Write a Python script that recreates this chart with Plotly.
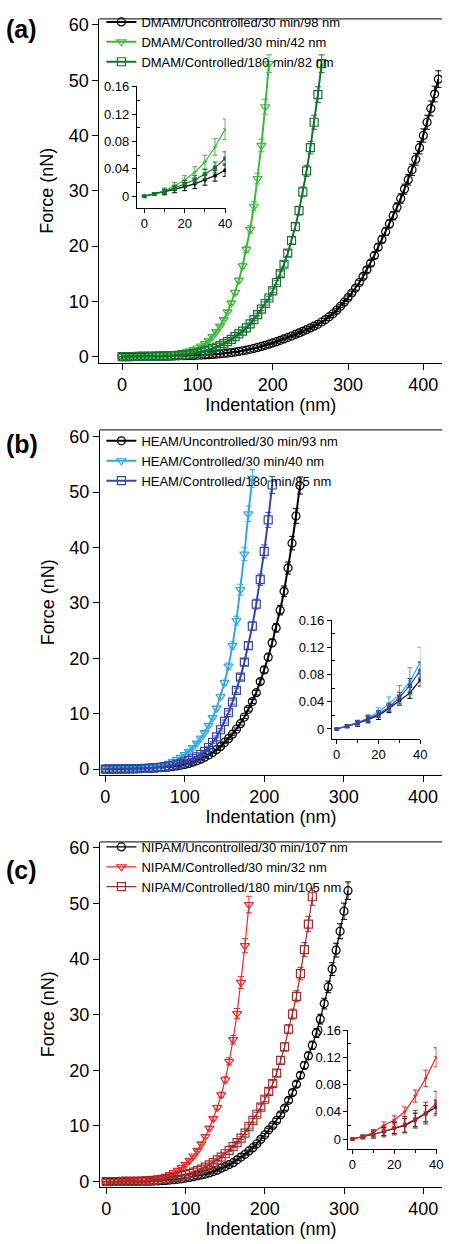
import plotly.graph_objects as go

W, H = 449, 1244
STEP = 5  # indentation sampling step (nm)

# ---------------- data: force (nN) every 5 nm of indentation ----------------
dmam_unc = [0.000, 0.003, 0.006, 0.010, 0.014, 0.018, 0.024, 0.030, 0.038,
            0.047, 0.057, 0.068, 0.080, 0.094, 0.11, 0.13, 0.15, 0.17, 0.19, 0.21,
            0.24, 0.27, 0.30, 0.34, 0.38, 0.43, 0.49, 0.56, 0.63, 0.72,
            0.82, 0.93, 1.05, 1.18, 1.32, 1.48, 1.65, 1.84, 2.04, 2.25,
            2.47, 2.70, 2.94, 3.19, 3.45, 3.72, 4.00, 4.28, 4.57, 4.87,
            5.18, 5.50, 5.85, 6.25, 6.70, 7.20, 7.75, 8.40, 9.10, 9.85,
            10.65, 11.5, 12.4, 13.4, 14.5, 15.7, 16.9, 18.3, 19.8, 21.2,
            22.6, 24.0, 25.5, 27.0, 28.6, 30.3, 32.0, 33.8, 35.7, 37.8,
            40.0, 42.4, 44.9, 47.5, 50.2]
dmam_c30 = [0.000, 0.003, 0.008, 0.015, 0.024, 0.035, 0.050, 0.072, 0.098,
            0.13, 0.17, 0.22, 0.28, 0.35, 0.44, 0.55, 0.68, 0.85, 1.05, 1.28,
            1.55, 1.9, 2.35, 2.95, 3.65, 4.5, 5.5, 6.7, 8.1, 9.7,
            11.6, 13.8, 16.4, 19.4, 23.0, 27.2, 32.2, 38.2, 45.2, 53.0]
dmam_c180 = [0.000, 0.003, 0.007, 0.012, 0.018, 0.024, 0.032, 0.042, 0.055,
             0.07, 0.09, 0.11, 0.13, 0.16, 0.19, 0.23, 0.28, 0.34, 0.42, 0.52,
             0.64, 0.79, 0.97, 1.18, 1.42, 1.7, 2.0, 2.35, 2.7, 3.1,
             3.6, 4.1, 4.6, 5.2, 5.9, 6.7, 7.6, 8.6, 9.6, 10.6,
             11.9, 13.4, 15.0, 16.7, 18.7, 21.0, 23.5, 26.4, 29.8, 33.6,
             37.8, 42.4, 47.4, 53.0]

heam_unc = [0.000, 0.004, 0.008, 0.014, 0.020, 0.030, 0.042, 0.053, 0.072,
            0.09, 0.11, 0.13, 0.16, 0.19, 0.24, 0.30, 0.37, 0.46, 0.57, 0.70,
            0.85, 1.03, 1.25, 1.5, 1.8, 2.15, 2.55, 3.0, 3.5, 4.1,
            4.8, 5.5, 6.3, 7.2, 8.2, 9.4, 10.8, 12.2, 13.8, 15.8,
            17.9, 20.2, 22.8, 25.5, 28.7, 32.1, 36.3, 40.8, 45.7, 51.2]
heam_c30 = [0.000, 0.004, 0.009, 0.016, 0.025, 0.037, 0.050, 0.070, 0.098,
            0.13, 0.17, 0.24, 0.33, 0.45, 0.6, 0.8, 1.05, 1.35, 1.7, 2.1,
            2.6, 3.2, 3.9, 4.7, 5.6, 6.6, 7.9, 9.3, 11.0, 13.1,
            15.6, 18.6, 22.3, 26.8, 32.4, 38.8, 46.1, 52.5]
heam_c180 = [0.000, 0.004, 0.009, 0.015, 0.022, 0.032, 0.046, 0.064, 0.086,
             0.11, 0.14, 0.18, 0.23, 0.29, 0.36, 0.45, 0.56, 0.69, 0.85, 1.05,
             1.28, 1.55, 1.85, 2.2, 2.65, 3.2, 3.9, 4.8, 5.8, 7.1,
             8.6, 10.2, 12.1, 14.2, 16.6, 19.3, 22.3, 25.8, 29.8, 34.2,
             39.3, 45.0, 51.3]

nipam_unc = [0.000, 0.003, 0.007, 0.011, 0.016, 0.020, 0.028, 0.037, 0.047,
             0.052, 0.06, 0.075, 0.095, 0.12, 0.16, 0.2, 0.26, 0.33, 0.41, 0.5,
             0.62, 0.74, 0.88, 1.05, 1.2, 1.35, 1.55, 1.8, 2.05, 2.4,
             2.7, 3.05, 3.4, 3.9, 4.4, 4.9, 5.5, 6.1, 6.8, 7.6,
             8.4, 9.3, 10.1, 11.0, 12.0, 13.2, 14.6, 16.0, 17.5, 19.1,
             20.9, 22.6, 24.5, 26.7, 29.2, 32.0, 35.0, 38.2, 41.6, 45.0,
             48.6, 52.3]
nipam_c30 = [0.000, 0.004, 0.010, 0.020, 0.028, 0.040, 0.063, 0.089, 0.12,
             0.16, 0.22, 0.30, 0.40, 0.54, 0.72, 0.95, 1.25, 1.6, 2.0, 2.5,
             3.1, 3.8, 4.6, 5.6, 6.8, 8.1, 9.6, 11.3, 13.3, 15.6,
             18.3, 21.6, 25.5, 30.2, 35.8, 42.4, 49.8]
nipam_c180 = [0.000, 0.003, 0.007, 0.011, 0.016, 0.021, 0.029, 0.038, 0.052,
              0.08, 0.12, 0.17, 0.24, 0.32, 0.41, 0.52, 0.64, 0.78, 0.93, 1.08,
              1.25, 1.45, 1.7, 1.95, 2.25, 2.6, 3.0, 3.4, 3.9, 4.4,
              5.0, 5.6, 6.3, 7.0, 7.8, 8.7, 9.9, 11.0, 12.1, 13.4,
              14.8, 16.2, 17.6, 19.5, 21.8, 24.2, 27.4, 30.1, 33.3, 37.4,
              41.7, 46.3, 51.2]

# inset (0-40 nm) error bars, nN
a_unc_err = [0.001, 0.002, 0.004, 0.005, 0.006, 0.007, 0.008, 0.008, 0.009]
a_c30_err = [0.001, 0.002, 0.004, 0.005, 0.006, 0.008, 0.010, 0.012, 0.015]
a_c180_err = [0.001, 0.002, 0.003, 0.004, 0.005, 0.006, 0.007, 0.008, 0.010]
b_unc_err = [0.001, 0.002, 0.004, 0.005, 0.006, 0.006, 0.007, 0.008, 0.009]
b_c30_err = [0.001, 0.002, 0.004, 0.005, 0.006, 0.010, 0.014, 0.020, 0.022]
b_c180_err = [0.001, 0.002, 0.003, 0.004, 0.005, 0.006, 0.008, 0.010, 0.012]
c_unc_err = [0.001, 0.002, 0.004, 0.006, 0.008, 0.010, 0.010, 0.012, 0.010]
c_c30_err = [0.001, 0.002, 0.004, 0.005, 0.006, 0.007, 0.009, 0.012, 0.014]
c_c180_err = [0.001, 0.003, 0.006, 0.008, 0.010, 0.012, 0.013, 0.016, 0.018]

main_err_pct = 3  # relative error shown on the main curves (%)

panels = [
    dict(label="(a)", lw=2.0, series=[
        ("DMAM/Uncontrolled/30 min/98 nm", dmam_unc, a_unc_err, "#000000", "circle"),
        ("DMAM/Controlled/30 min/42 nm", dmam_c30, a_c30_err, "#3dba3d", "triangle-down"),
        ("DMAM/Controlled/180 min/82 nm", dmam_c180, a_c180_err, "#16722f", "square"),
    ]),
    dict(label="(b)", lw=2.0, series=[
        ("HEAM/Uncontrolled/30 min/93 nm", heam_unc, b_unc_err, "#000000", "circle"),
        ("HEAM/Controlled/30 min/40 nm", heam_c30, b_c30_err, "#35a8e0", "triangle-down"),
        ("HEAM/Controlled/180 min/85 nm", heam_c180, b_c180_err, "#3845a6", "square"),
    ]),
    dict(label="(c)", lw=1.2, series=[
        ("NIPAM/Uncontrolled/30 min/107 nm", nipam_unc, c_unc_err, "#000000", "circle"),
        ("NIPAM/Controlled/30 min/32 nm", nipam_c30, c_c30_err, "#e82a2a", "triangle-down"),
        ("NIPAM/Controlled/180 min/105 nm", nipam_c180, c_c180_err, "#a52a2a", "square"),
    ]),
]

# ---------------- layout geometry (pixels) ----------------
def fx(p):
    return p / W


def fy(p):
    return 1 - p / H

geo = [
    dict(main_x=(101, W), main_y=(12, 359), xr=[-30.1, 424.8], yr=[-1.08, 61.1],
         ins_x=(139, 229.3), ins_y=(80, 202.7), ixr=[-3.7, 40.3], iyr=[-0.017, 0.161],
         leg=(103, 0), lab=(22, 22)),
    dict(main_x=(101.7, W), main_y=(427, 775), xr=[-6.6, 423.8], yr=[-0.98, 61.25],
         ins_x=(337, 427), ins_y=(619, 739), ixr=[-2.35, 40.0], iyr=[-0.0145, 0.16],
         leg=(103, 423), lab=(22, 441)),
    dict(main_x=(101.7, W), main_y=(843, 1191), xr=[-7.8, 423.6], yr=[-0.89, 61.07],
         ins_x=(354, 443.5), ins_y=(1033, 1153), ixr=[-1.9, 40.2], iyr=[-0.0145, 0.16],
         leg=(103, 833), lab=(22, 871)),
]

FONT = "Liberation Sans, Arial, sans-serif"
fig = go.Figure()
layout = dict(width=W, height=H, margin=dict(l=0, r=0, t=0, b=0),
              paper_bgcolor="white", plot_bgcolor="rgba(0,0,0,0)",
              font=dict(family=FONT, color="black"), shapes=[], annotations=[])

for i, (pan, g) in enumerate(zip(panels, geo)):
    mi = 2 * i + 1
    ii = 2 * i + 2
    mx = "x" if mi == 1 else f"x{mi}"
    my = "y" if mi == 1 else f"y{mi}"
    ix, iy = f"x{ii}", f"y{ii}"
    legname = "legend" if i == 0 else f"legend{i + 1}"
    for name, vals, ierr, col, sym in pan["series"]:
        xs = [k * STEP for k in range(len(vals))]
        fig.add_trace(go.Scatter(
            x=xs, y=vals, xaxis=mx, yaxis=my, name=name, legend=legname,
            mode="lines+markers",
            line=dict(color=col, width=pan["lw"]),
            marker=dict(symbol=sym + "-open", size=8, color=col, line=dict(width=1.2, color=col)),
            error_y=dict(type="percent", value=main_err_pct, color=col, thickness=1, width=3),
        ))
    for name, vals, ierr, col, sym in pan["series"]:
        n = len(ierr)
        xs = [k * STEP for k in range(n)]
        fig.add_trace(go.Scatter(
            x=xs, y=vals[:n], xaxis=ix, yaxis=iy, showlegend=False, name=name,
            mode="lines+markers",
            line=dict(color=col, width=1.2),
            marker=dict(symbol=sym, size=4, color=col),
            error_y=dict(type="data", array=ierr, color=col, thickness=1, width=2.5),
        ))

    axkey = lambda a: ("xaxis" if a.startswith("x") else "yaxis") + a[1:]
    layout[axkey(mx)] = dict(
        domain=[fx(g["main_x"][0]), fx(g["main_x"][1])], range=g["xr"], anchor=my,
        showline=True, linecolor="black", linewidth=1.3, ticks="outside", ticklen=6,
        tickwidth=1.2, tickcolor="black", dtick=100, tick0=0, showgrid=False, zeroline=False,
        tickfont=dict(size=18), title=dict(text="Indentation (nm)", font=dict(size=18), standoff=2))
    layout[axkey(my)] = dict(
        domain=[fy(g["main_y"][1]), fy(g["main_y"][0])], range=g["yr"], anchor=mx,
        showline=True, linecolor="black", linewidth=1.3, ticks="outside", ticklen=6,
        tickwidth=1.2, tickcolor="black", dtick=10, tick0=0, showgrid=False, zeroline=False,
        tickfont=dict(size=18), title=dict(text="Force (nN)", font=dict(size=18), standoff=10))
    layout[axkey(ix)] = dict(
        domain=[fx(g["ins_x"][0]), fx(g["ins_x"][1])], range=g["ixr"], anchor=iy,
        showline=True, linecolor="black", linewidth=1, ticks="outside", ticklen=4,
        tickcolor="black", tickvals=[0, 20, 40], showgrid=False, zeroline=False,
        tickfont=dict(size=13),
        minor=dict(tickvals=[10, 30], ticks="outside", ticklen=3, tickcolor="black", showgrid=False))
    layout[axkey(iy)] = dict(
        domain=[fy(g["ins_y"][1]), fy(g["ins_y"][0])], range=g["iyr"], anchor=ix,
        showline=True, linecolor="black", linewidth=1, ticks="outside", ticklen=4,
        tickcolor="black", tickvals=[0, 0.04, 0.08, 0.12, 0.16], showgrid=False, zeroline=False,
        tickfont=dict(size=13),
        minor=dict(tickvals=[0.02, 0.06, 0.10, 0.14], ticks="inside", ticklen=3, tickcolor="black", showgrid=False))
    layout[legname] = dict(
        x=fx(g["leg"][0]), y=fy(g["leg"][1]), xanchor="left", yanchor="top",
        bgcolor="rgba(0,0,0,0)", font=dict(size=13), itemwidth=30, tracegroupgap=0)
    layout["shapes"].append(dict(type="line", xref="paper", yref="paper",
                                 x0=fx(g["main_x"][0]), x1=1, y0=fy(g["main_y"][0]), y1=fy(g["main_y"][0]),
                                 line=dict(color="#333333", width=1.2)))
    layout["annotations"].append(dict(text="<b>" + pan["label"] + "</b>", xref="paper", yref="paper",
                                      x=fx(g["lab"][0]), y=fy(g["lab"][1]), xanchor="center", yanchor="middle",
                                      showarrow=False, font=dict(size=25, family=FONT)))

fig.update_layout(**layout)
fig.write_html("out.html", config={"displayModeBar": False},
               post_script="document.body.style.margin='0';document.body.style.overflow='hidden';")
